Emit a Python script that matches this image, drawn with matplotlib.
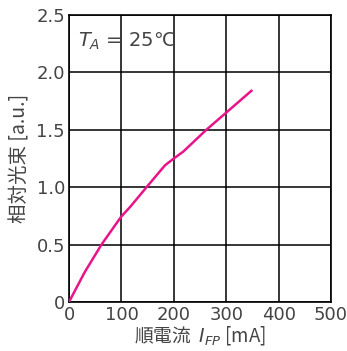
import matplotlib
matplotlib.use("Agg")
import matplotlib.pyplot as plt

plt.rcParams['font.family'] = ['DejaVu Sans', 'Noto Sans CJK JP']

# forward current [mA] vs relative luminous flux [a.u.]
current_ma = [0, 30, 62, 99, 117, 148, 183, 200, 218, 262, 300, 348]
flux_au = [0, 0.26, 0.50, 0.74, 0.83, 1.00, 1.19, 1.25, 1.31, 1.50, 1.65, 1.84]

x_ticks = [0, 100, 200, 300, 400, 500]
y_ticks = [0, 0.5, 1.0, 1.5, 2.0, 2.5]
y_tick_labels = ['0', '0.5', '1.0', '1.5', '2.0', '2.5']

text_color = '#444444'

fig = plt.figure(figsize=(3.47, 3.51), dpi=100)
ax = fig.add_axes([0.199, 0.140, 0.755, 0.817])

ax.plot(current_ma, flux_au, color='#e8158a', lw=1.8, zorder=3)

ax.set_xlim(0, 500)
ax.set_ylim(0, 2.5)
ax.set_xticks(x_ticks)
ax.set_yticks(y_ticks)
ax.set_yticklabels(y_tick_labels)
ax.tick_params(length=0, labelsize=13, labelcolor=text_color, pad=3)
ax.grid(True, color='black', lw=1.1)
for s in ax.spines.values():
    s.set_linewidth(1.2)

ax.set_xlabel('順電流  $I_{FP}$ [mA]', fontsize=13.5, color=text_color,
              family=['Noto Sans CJK JP', 'DejaVu Sans'], labelpad=0)
ax.set_ylabel('相対光束 [a.u.]', fontsize=14, color=text_color,
              family=['Noto Sans CJK JP', 'DejaVu Sans'], labelpad=4)
ax.text(18, 2.27, '$T_A$ = 25℃', fontsize=14, color=text_color,
        family=['DejaVu Sans', 'Noto Sans CJK JP'], va='center')

fig.savefig('out.png', dpi=100)
